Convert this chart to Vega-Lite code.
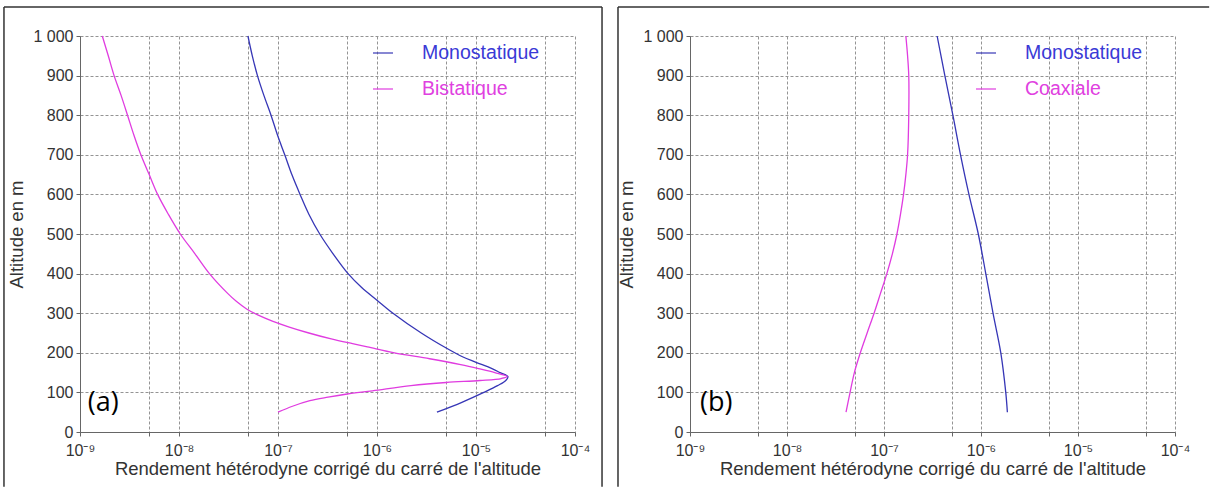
{
  "$schema": "https://vega.github.io/schema/vega-lite/v6.json",
  "background": "white",
  "padding": {"left": 3, "top": 6, "right": 0, "bottom": 0},
  "config": {
    "font": "Liberation Sans",
    "view": {"stroke": null},
    "axis": {
      "labelFontSize": 16,
      "titleFontSize": 18.5,
      "labelColor": "#333333",
      "titleColor": "#333333",
      "titleFontWeight": "normal",
      "domainColor": "#666666",
      "tickColor": "#666666",
      "tickSize": 4,
      "gridColor": "#949494",
      "gridDash": [3, 2],
      "gridOpacity": 1,
      "gridWidth": 1,
      "labelOverlap": false
    },
    "axisY": {"tickCount": 10},
    "legend": {
      "orient": "none",
      "title": null,
      "symbolType": "stroke",
      "symbolSize": 400,
      "symbolStrokeWidth": 1.2,
      "labelFontSize": 19.5,
      "labelOffset": 28,
      "rowPadding": 15,
      "labelColor": {"expr": "datum.label == 'Monostatique' ? '#3a3ad6' : '#e040e0'"}
    }
  },
  "datasets": {
    "d": [
      {"p": "a", "s": "Monostatique", "alt": 1000, "v": 4.97e-8},
      {"p": "a", "s": "Monostatique", "alt": 950, "v": 5.5e-8},
      {"p": "a", "s": "Monostatique", "alt": 900, "v": 6.2e-8},
      {"p": "a", "s": "Monostatique", "alt": 850, "v": 7.2e-8},
      {"p": "a", "s": "Monostatique", "alt": 800, "v": 8.5e-8},
      {"p": "a", "s": "Monostatique", "alt": 746, "v": 1.0e-7},
      {"p": "a", "s": "Monostatique", "alt": 700, "v": 1.17e-7},
      {"p": "a", "s": "Monostatique", "alt": 650, "v": 1.38e-7},
      {"p": "a", "s": "Monostatique", "alt": 600, "v": 1.67e-7},
      {"p": "a", "s": "Monostatique", "alt": 550, "v": 2.05e-7},
      {"p": "a", "s": "Monostatique", "alt": 500, "v": 2.64e-7},
      {"p": "a", "s": "Monostatique", "alt": 450, "v": 3.6e-7},
      {"p": "a", "s": "Monostatique", "alt": 400, "v": 5.1e-7},
      {"p": "a", "s": "Monostatique", "alt": 365, "v": 7.0e-7},
      {"p": "a", "s": "Monostatique", "alt": 333, "v": 1.0e-6},
      {"p": "a", "s": "Monostatique", "alt": 300, "v": 1.45e-6},
      {"p": "a", "s": "Monostatique", "alt": 250, "v": 2.8e-6},
      {"p": "a", "s": "Monostatique", "alt": 212, "v": 5.0e-6},
      {"p": "a", "s": "Monostatique", "alt": 190, "v": 7.3e-6},
      {"p": "a", "s": "Monostatique", "alt": 176, "v": 1.0e-5},
      {"p": "a", "s": "Monostatique", "alt": 160, "v": 1.45e-5},
      {"p": "a", "s": "Monostatique", "alt": 150, "v": 1.75e-5},
      {"p": "a", "s": "Monostatique", "alt": 140, "v": 2.1e-5},
      {"p": "a", "s": "Monostatique", "alt": 130, "v": 2.0e-5},
      {"p": "a", "s": "Monostatique", "alt": 117, "v": 1.65e-5},
      {"p": "a", "s": "Monostatique", "alt": 100, "v": 1.2e-5},
      {"p": "a", "s": "Monostatique", "alt": 75, "v": 7.2e-6},
      {"p": "a", "s": "Monostatique", "alt": 50, "v": 4.03e-6},
      {"p": "a", "s": "Bistatique", "alt": 1000, "v": 1.68e-9},
      {"p": "a", "s": "Bistatique", "alt": 950, "v": 1.93e-9},
      {"p": "a", "s": "Bistatique", "alt": 900, "v": 2.21e-9},
      {"p": "a", "s": "Bistatique", "alt": 850, "v": 2.6e-9},
      {"p": "a", "s": "Bistatique", "alt": 800, "v": 3.02e-9},
      {"p": "a", "s": "Bistatique", "alt": 750, "v": 3.5e-9},
      {"p": "a", "s": "Bistatique", "alt": 700, "v": 4.12e-9},
      {"p": "a", "s": "Bistatique", "alt": 650, "v": 5.0e-9},
      {"p": "a", "s": "Bistatique", "alt": 600, "v": 6.08e-9},
      {"p": "a", "s": "Bistatique", "alt": 550, "v": 7.8e-9},
      {"p": "a", "s": "Bistatique", "alt": 500, "v": 1.03e-8},
      {"p": "a", "s": "Bistatique", "alt": 450, "v": 1.45e-8},
      {"p": "a", "s": "Bistatique", "alt": 400, "v": 2.03e-8},
      {"p": "a", "s": "Bistatique", "alt": 350, "v": 3.1e-8},
      {"p": "a", "s": "Bistatique", "alt": 330, "v": 3.79e-8},
      {"p": "a", "s": "Bistatique", "alt": 310, "v": 4.86e-8},
      {"p": "a", "s": "Bistatique", "alt": 295, "v": 6.32e-8},
      {"p": "a", "s": "Bistatique", "alt": 280, "v": 8.77e-8},
      {"p": "a", "s": "Bistatique", "alt": 265, "v": 1.3e-7},
      {"p": "a", "s": "Bistatique", "alt": 250, "v": 2.05e-7},
      {"p": "a", "s": "Bistatique", "alt": 235, "v": 3.45e-7},
      {"p": "a", "s": "Bistatique", "alt": 223, "v": 5.66e-7},
      {"p": "a", "s": "Bistatique", "alt": 215, "v": 8.0e-7},
      {"p": "a", "s": "Bistatique", "alt": 200, "v": 1.5e-6},
      {"p": "a", "s": "Bistatique", "alt": 185, "v": 3.4e-6},
      {"p": "a", "s": "Bistatique", "alt": 170, "v": 7.0e-6},
      {"p": "a", "s": "Bistatique", "alt": 160, "v": 1.06e-5},
      {"p": "a", "s": "Bistatique", "alt": 150, "v": 1.55e-5},
      {"p": "a", "s": "Bistatique", "alt": 140, "v": 2.06e-5},
      {"p": "a", "s": "Bistatique", "alt": 135, "v": 1.8e-5},
      {"p": "a", "s": "Bistatique", "alt": 130, "v": 1.1e-5},
      {"p": "a", "s": "Bistatique", "alt": 125, "v": 5.0e-6},
      {"p": "a", "s": "Bistatique", "alt": 117, "v": 2.2e-6},
      {"p": "a", "s": "Bistatique", "alt": 104, "v": 9.0e-7},
      {"p": "a", "s": "Bistatique", "alt": 96, "v": 5.0e-7},
      {"p": "a", "s": "Bistatique", "alt": 88, "v": 3.2e-7},
      {"p": "a", "s": "Bistatique", "alt": 79, "v": 2.1e-7},
      {"p": "a", "s": "Bistatique", "alt": 65, "v": 1.4e-7},
      {"p": "a", "s": "Bistatique", "alt": 50, "v": 1.0e-7},
      {"p": "b", "s": "Monostatique", "alt": 1000, "v": 3.53e-7},
      {"p": "b", "s": "Monostatique", "alt": 900, "v": 4.24e-7},
      {"p": "b", "s": "Monostatique", "alt": 800, "v": 5.13e-7},
      {"p": "b", "s": "Monostatique", "alt": 700, "v": 6.15e-7},
      {"p": "b", "s": "Monostatique", "alt": 600, "v": 7.51e-7},
      {"p": "b", "s": "Monostatique", "alt": 500, "v": 9.38e-7},
      {"p": "b", "s": "Monostatique", "alt": 400, "v": 1.12e-6},
      {"p": "b", "s": "Monostatique", "alt": 300, "v": 1.33e-6},
      {"p": "b", "s": "Monostatique", "alt": 200, "v": 1.6e-6},
      {"p": "b", "s": "Monostatique", "alt": 100, "v": 1.8e-6},
      {"p": "b", "s": "Monostatique", "alt": 50, "v": 1.87e-6},
      {"p": "b", "s": "Coaxiale", "alt": 1000, "v": 1.68e-7},
      {"p": "b", "s": "Coaxiale", "alt": 950, "v": 1.75e-7},
      {"p": "b", "s": "Coaxiale", "alt": 900, "v": 1.8e-7},
      {"p": "b", "s": "Coaxiale", "alt": 800, "v": 1.8e-7},
      {"p": "b", "s": "Coaxiale", "alt": 700, "v": 1.75e-7},
      {"p": "b", "s": "Coaxiale", "alt": 650, "v": 1.68e-7},
      {"p": "b", "s": "Coaxiale", "alt": 600, "v": 1.59e-7},
      {"p": "b", "s": "Coaxiale", "alt": 550, "v": 1.48e-7},
      {"p": "b", "s": "Coaxiale", "alt": 500, "v": 1.36e-7},
      {"p": "b", "s": "Coaxiale", "alt": 450, "v": 1.22e-7},
      {"p": "b", "s": "Coaxiale", "alt": 400, "v": 1.07e-7},
      {"p": "b", "s": "Coaxiale", "alt": 350, "v": 9.2e-8},
      {"p": "b", "s": "Coaxiale", "alt": 300, "v": 7.9e-8},
      {"p": "b", "s": "Coaxiale", "alt": 250, "v": 6.7e-8},
      {"p": "b", "s": "Coaxiale", "alt": 200, "v": 5.7e-8},
      {"p": "b", "s": "Coaxiale", "alt": 150, "v": 4.95e-8},
      {"p": "b", "s": "Coaxiale", "alt": 100, "v": 4.47e-8},
      {"p": "b", "s": "Coaxiale", "alt": 50, "v": 4.06e-8}
    ]
  },
  "spacing": 115,
  "bounds": "flush",
  "resolve": {"scale": {"color": "independent"}, "legend": {"color": "independent"}},
  "hconcat": [
    {
      "width": 495,
      "height": 396,
      "layer": [
        {
          "data": {"name": "d"},
          "transform": [{"filter": "datum.p == 'a'"}],
          "mark": {"type": "line", "strokeWidth": 1.3, "interpolate": "catmull-rom"},
          "encoding": {
            "x": {
              "field": "v", "type": "quantitative",
              "scale": {"type": "log", "domain": [1e-9, 1e-4], "nice": false},
              "axis": {
                "title": "Rendement hétérodyne corrigé du carré de l'altitude",
                "values": [1e-9, 5e-9, 1e-8, 5e-8, 1e-7, 5e-7, 1e-6, 5e-6, 1e-5, 5e-5, 1e-4],
                "labelExpr": "abs(log(datum.value)/LN10 - round(log(datum.value)/LN10)) < 0.01 ? '10⁻' + ['⁰','¹','²','³','⁴','⁵','⁶','⁷','⁸','⁹'][-round(log(datum.value)/LN10)] : ''",
                "labelFlush": false,
                "labelOverlap": false,
                "labelPadding": 6,
                "titlePadding": 1
              }
            },
            "y": {
              "field": "alt", "type": "quantitative",
              "scale": {"domain": [0, 1000], "nice": false},
              "axis": {
                "title": "Altitude en m",
                "labelExpr": "datum.value == 1000 ? '1 000' : datum.label",
                "labelOverlap": false,
                "labelPadding": 3,
                "titlePadding": 6
              }
            },
            "order": {"field": "alt", "type": "quantitative"},
            "color": {
              "field": "s", "type": "nominal",
              "scale": {"domain": ["Monostatique", "Bistatique"], "range": ["#3636b6", "#e03ce0"]},
              "legend": {"legendX": 292, "legendY": 6}
            }
          }
        },
        {
          "data": {"values": [{"t": "(a)"}]},
          "mark": {"type": "text", "font": "Open Sans", "fontSize": 27, "align": "left", "baseline": "middle", "color": "#000000"},
          "encoding": {
            "x": {"datum": 1.2e-9, "type": "quantitative"},
            "y": {"datum": 72, "type": "quantitative"},
            "text": {"field": "t"}
          }
        },
        {
          "data": {"values": [{}]},
          "mark": {"type": "rule", "color": "#333333", "strokeWidth": 1.5},
          "encoding": {
            "x": {"datum": 1.706e-10, "type": "quantitative"},
            "y": {"datum": 1073, "type": "quantitative"},
            "y2": {"datum": -138}
          }
        },
        {
          "data": {"values": [{}]},
          "mark": {"type": "rule", "color": "#333333", "strokeWidth": 1.5},
          "encoding": {
            "x": {"datum": 1.875e-4, "type": "quantitative"},
            "y": {"datum": 1073, "type": "quantitative"},
            "y2": {"datum": -138}
          }
        },
        {
          "data": {"values": [{}]},
          "mark": {"type": "rule", "color": "#333333", "strokeWidth": 1.5},
          "encoding": {
            "x": {"datum": 1.706e-10, "type": "quantitative"},
            "x2": {"datum": 1.875e-4},
            "y": {"datum": 1073, "type": "quantitative"}
          }
        }
      ]
    },
    {
      "width": 485,
      "height": 396,
      "layer": [
        {
          "data": {"name": "d"},
          "transform": [{"filter": "datum.p == 'b'"}],
          "mark": {"type": "line", "strokeWidth": 1.3, "interpolate": "catmull-rom"},
          "encoding": {
            "x": {
              "field": "v", "type": "quantitative",
              "scale": {"type": "log", "domain": [1e-9, 1e-4], "nice": false},
              "axis": {
                "title": "Rendement hétérodyne corrigé du carré de l'altitude",
                "values": [1e-9, 5e-9, 1e-8, 5e-8, 1e-7, 5e-7, 1e-6, 5e-6, 1e-5, 5e-5, 1e-4],
                "labelExpr": "abs(log(datum.value)/LN10 - round(log(datum.value)/LN10)) < 0.01 ? '10⁻' + ['⁰','¹','²','³','⁴','⁵','⁶','⁷','⁸','⁹'][-round(log(datum.value)/LN10)] : ''",
                "labelFlush": false,
                "labelOverlap": false,
                "labelPadding": 6,
                "titlePadding": 1
              }
            },
            "y": {
              "field": "alt", "type": "quantitative",
              "scale": {"domain": [0, 1000], "nice": false},
              "axis": {
                "title": "Altitude en m",
                "labelExpr": "datum.value == 1000 ? '1 000' : datum.label",
                "labelOverlap": false,
                "labelPadding": 3,
                "titlePadding": 6
              }
            },
            "order": {"field": "alt", "type": "quantitative"},
            "color": {
              "field": "s", "type": "nominal",
              "scale": {"domain": ["Monostatique", "Coaxiale"], "range": ["#3636b6", "#e03ce0"]},
              "legend": {"legendX": 285, "legendY": 6}
            }
          }
        },
        {
          "data": {"values": [{"t": "(b)"}]},
          "mark": {"type": "text", "font": "Open Sans", "fontSize": 27, "align": "left", "baseline": "middle", "color": "#000000"},
          "encoding": {
            "x": {"datum": 1.27e-9, "type": "quantitative"},
            "y": {"datum": 72, "type": "quantitative"},
            "text": {"field": "t"}
          }
        },
        {
          "data": {"values": [{}]},
          "mark": {"type": "rule", "color": "#333333", "strokeWidth": 1.5},
          "encoding": {
            "x": {"datum": 1.81e-10, "type": "quantitative"},
            "y": {"datum": 1073, "type": "quantitative"},
            "y2": {"datum": -138}
          }
        },
        {
          "data": {"values": [{}]},
          "mark": {"type": "rule", "color": "#333333", "strokeWidth": 1.5},
          "encoding": {
            "x": {"datum": 1.81e-10, "type": "quantitative"},
            "x2": {"datum": 2.25e-4},
            "y": {"datum": 1073, "type": "quantitative"}
          }
        }
      ]
    }
  ]
}
